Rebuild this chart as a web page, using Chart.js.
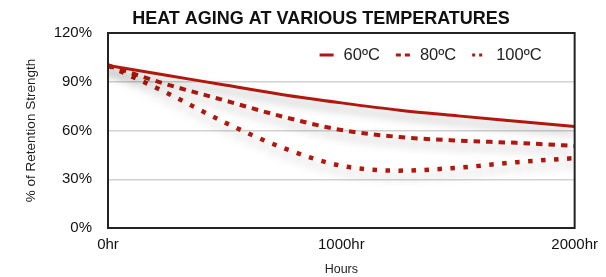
<!DOCTYPE html>
<html>
<head>
<meta charset="utf-8">
<script src="https://cdn.jsdelivr.net/npm/chart.js@4/dist/chart.umd.min.js"></script>
<style>
  html, body { margin: 0; padding: 0; background: #fff; }
  #wrap { width: 606px; height: 277px; }
</style>
</head>
<body>
<div id="wrap"><canvas id="myChart" width="606" height="277"></canvas></div>
<script>
'use strict';

const hours = [0, 250, 500, 750, 1000, 1250, 1500, 1750, 2000];
const temp60 = [100, 94, 88, 82, 77, 72.5, 69, 65.7, 62.4];
const temp80 = [100, 88.5, 78.5, 68.5, 60.3, 56, 53.8, 52.4, 50.5];
const temp100 = [100, 83.3, 65, 49.3, 38.3, 35.3, 37.1, 40.5, 43];
const seriesLabels = ['60ºC', '80ºC', '100ºC'];
const yTicks = [0, 30, 60, 90, 120];
const xTicks = [0, 1000, 2000];

const chartTitle = 'HEAT AGING AT VARIOUS TEMPERATURES';
const lineColor = '#b1170c';

const toPoints = (values) => hours.map((h, i) => ({ x: h, y: values[i] }));

// legend sample dashes (short version of the line dashes)
const legendDash = [[], [5, 4], [3, 4]];

// soft grey shadow under each line
const shadowPlugin = {
  id: 'lineShadow',
  beforeDatasetDraw(chart) {
    const c = chart.ctx;
    c.save();
    c.shadowColor = 'rgba(0, 0, 0, 0.35)';
    c.shadowBlur = 10;
    c.shadowOffsetY = 6;
  },
  afterDatasetDraw(chart) {
    chart.ctx.restore();
  }
};

// frame, title and the legend inside the plot
const decorPlugin = {
  id: 'decor',
  afterDraw(chart) {
    const c = chart.ctx;
    const area = chart.chartArea;

    c.save();
    c.strokeStyle = '#222';
    c.lineWidth = 2;
    c.strokeRect(area.left, area.top, area.right - area.left, area.bottom - area.top);

    c.fillStyle = '#111';
    c.font = 'bold 18px "Liberation Sans", Arial, sans-serif';
    c.textAlign = 'center';
    c.textBaseline = 'alphabetic';
    c.fillText(chartTitle, 321, 24);

    // legend
    c.font = '16.5px "Liberation Sans", Arial, sans-serif';
    c.textBaseline = 'middle';
    c.textAlign = 'left';
    const ly = 55;
    const items = chart.data.datasets.map((ds, i) => ({
      label: ds.label,
      w: c.measureText(ds.label).width,
      dash: legendDash[i],
      color: ds.borderColor
    }));
    const sampleW = 14, gapText = 10, gapItem = 16;
    let total = 0;
    items.forEach((it, i) => {
      total += sampleW + gapText + it.w + (i < items.length - 1 ? gapItem : 0);
    });
    let x = area.right - 33 - total;
    items.forEach(it => {
      c.beginPath();
      c.setLineDash(it.dash);
      c.strokeStyle = it.color;
      c.lineWidth = 3;
      c.moveTo(x, ly);
      c.lineTo(x + sampleW, ly);
      c.stroke();
      c.setLineDash([]);
      c.fillStyle = '#222';
      c.fillText(it.label, x + sampleW + gapText, ly);
      x += sampleW + gapText + it.w + gapItem;
    });
    c.restore();
  }
};

const ctx = document.querySelector('#myChart').getContext('2d');
const myChart = new Chart(ctx, {
  type: 'line',
  data: {
    datasets: [{
      label: seriesLabels[0],
      data: toPoints(temp60),
      borderColor: lineColor,
      borderWidth: 3,
      pointRadius: 0,
      cubicInterpolationMode: 'monotone'
    }, {
      label: seriesLabels[1],
      data: toPoints(temp80),
      borderColor: lineColor,
      borderWidth: 4,
      borderDash: [6.5, 6],
      pointRadius: 0,
      cubicInterpolationMode: 'monotone'
    }, {
      label: seriesLabels[2],
      data: toPoints(temp100),
      borderColor: lineColor,
      borderWidth: 4.5,
      borderDash: [4.5, 8.5],
      pointRadius: 0,
      cubicInterpolationMode: 'monotone'
    }]
  },
  options: {
    responsive: false,
    animation: false,
    layout: {
      padding: { top: 33, right: 31, left: 0, bottom: 0 }
    },
    scales: {
      x: {
        type: 'linear',
        min: 0,
        max: 2000,
        afterBuildTicks: (scale) => { scale.ticks = xTicks.map(v => ({ value: v })); },
        afterFit: (scale) => { scale.height = 49; },
        ticks: {
          padding: 8,
          color: '#111',
          font: { family: '"Liberation Sans", Arial, sans-serif', size: 15 },
          callback: (v) => v + 'hr'
        },
        grid: { display: false, drawTicks: false },
        border: { display: false },
        title: {
          display: true,
          text: 'Hours',
          color: '#222',
          padding: { top: 0, bottom: 0 },
          font: { family: '"Liberation Sans", Arial, sans-serif', size: 12.5 }
        }
      },
      y: {
        min: 0,
        max: 120,
        afterBuildTicks: (scale) => { scale.ticks = yTicks.map(v => ({ value: v })); },
        afterFit: (scale) => { scale.width = 108; },
        ticks: {
          padding: 16,
          color: '#111',
          font: { family: '"Liberation Sans", Arial, sans-serif', size: 15 },
          callback: (v) => v + '%'
        },
        grid: { color: '#d2d2d2', lineWidth: 1.5, drawTicks: false },
        border: { display: false },
        title: {
          display: true,
          text: '% of Retention Strength',
          color: '#222',
          padding: { top: 23, bottom: 0 },
          font: { family: '"Liberation Sans", Arial, sans-serif', size: 13.5 }
        }
      }
    },
    plugins: {
      legend: { display: false },
      title: { display: false },
      tooltip: { enabled: false }
    }
  },
  plugins: [shadowPlugin, decorPlugin]
});
</script>
</body>
</html>
